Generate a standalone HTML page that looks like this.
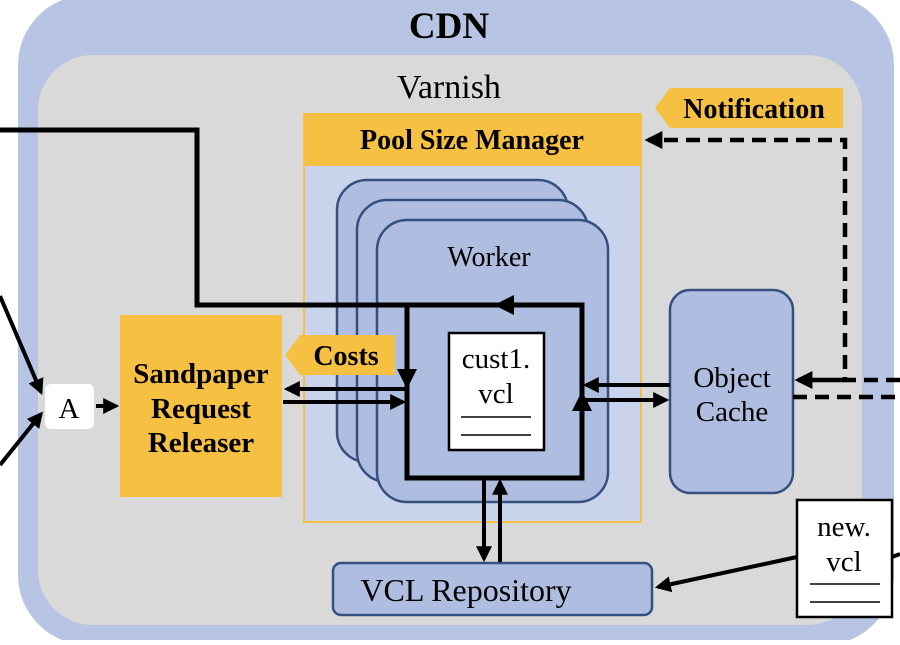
<!DOCTYPE html>
<html><head><meta charset="utf-8"><style>
body{margin:0;background:#fff;width:900px;height:640px;overflow:hidden}
text{font-family:"Liberation Serif",serif}
</style></head><body>
<svg width="900" height="640" viewBox="0 0 900 640" xmlns="http://www.w3.org/2000/svg">
<defs>
<marker id="ah" markerWidth="4" markerHeight="4" refX="3.2" refY="2" orient="auto" markerUnits="strokeWidth"><path d="M0,0 L4,2 L0,4 z" fill="#000"/></marker>
</defs>
<rect x="18" y="-5" width="876" height="650" rx="70" fill="#b8c4e4"/>
<rect x="38" y="55" width="824" height="570" rx="55" fill="#d9d9d9"/>
<text x="449" y="38" font-size="37" font-weight="bold" text-anchor="middle">CDN</text>
<text x="449" y="98" font-size="34" text-anchor="middle">Varnish</text>
<rect x="304" y="165" width="337" height="357" fill="#c9d3ec" stroke="#f6c142" stroke-width="2"/>
<rect x="303" y="113" width="339" height="53" fill="#f6c142"/>
<text x="472" y="149" font-size="28" font-weight="bold" text-anchor="middle">Pool Size Manager</text>
<rect x="337" y="180" width="231" height="282" rx="30" fill="#aebde0" stroke="#34507f" stroke-width="2.5"/>
<rect x="357" y="200" width="231" height="282" rx="30" fill="#aebde0" stroke="#34507f" stroke-width="2.5"/>
<rect x="377" y="220" width="231" height="282" rx="30" fill="#aebde0" stroke="#34507f" stroke-width="2.5"/>
<text x="489" y="266" font-size="28" text-anchor="middle">Worker</text>
<rect x="407" y="305" width="175" height="173" fill="none" stroke="#000" stroke-width="5"/>
<path d="M540,305 L498,305" stroke="#000" stroke-width="5" marker-end="url(#ah)"/>
<path d="M407,330 L407,385" stroke="#000" stroke-width="5" marker-end="url(#ah)"/>
<path d="M582,430 L582,395" stroke="#000" stroke-width="5" marker-end="url(#ah)"/>
<rect x="449" y="333" width="95" height="117" fill="#fff" stroke="#000" stroke-width="2.5"/>
<text x="496" y="368" font-size="29" text-anchor="middle">cust1.</text>
<text x="496" y="403" font-size="29" text-anchor="middle">vcl</text>
<line x1="461" y1="417" x2="531" y2="417" stroke="#000" stroke-width="1.5"/>
<line x1="461" y1="435" x2="531" y2="435" stroke="#000" stroke-width="1.5"/>
<path d="M0,130 L197,130 L197,305 L410,305" fill="none" stroke="#000" stroke-width="5"/>
<rect x="120" y="315" width="162" height="182" fill="#f6c142"/>
<text x="201" y="383" font-size="29" font-weight="bold" text-anchor="middle">Sandpaper</text>
<text x="201" y="418" font-size="29" font-weight="bold" text-anchor="middle">Request</text>
<text x="201" y="452" font-size="29" font-weight="bold" text-anchor="middle">Releaser</text>
<path d="M300,335 L395,335 L395,375 L300,375 L285,355 z" fill="#f6c142"/>
<text x="346" y="365" font-size="28" font-weight="bold" text-anchor="middle">Costs</text>
<path d="M405,389 L287,389" stroke="#000" stroke-width="4" marker-end="url(#ah)"/>
<path d="M283,402 L403,402" stroke="#000" stroke-width="4" marker-end="url(#ah)"/>
<rect x="45" y="384" width="49" height="45" rx="6" fill="#fff"/>
<text x="69" y="418" font-size="29" text-anchor="middle">A</text>
<path d="M0,296 L41,392" stroke="#000" stroke-width="4" marker-end="url(#ah)"/>
<path d="M0,465 L41,414" stroke="#000" stroke-width="4" marker-end="url(#ah)"/>
<path d="M96,406 L116,406" stroke="#000" stroke-width="4" marker-end="url(#ah)"/>
<rect x="670" y="290" width="123" height="203" rx="20" fill="#aebde0" stroke="#34507f" stroke-width="2.5"/>
<text x="732" y="387" font-size="29" text-anchor="middle">Object</text>
<text x="732" y="421" font-size="29" text-anchor="middle">Cache</text>
<path d="M670,385 L586,385" stroke="#000" stroke-width="4" marker-end="url(#ah)"/>
<path d="M584,400 L666,400" stroke="#000" stroke-width="4" marker-end="url(#ah)"/>
<path d="M484,478 L484,559" stroke="#000" stroke-width="4" marker-end="url(#ah)"/>
<path d="M500,563 L500,482" stroke="#000" stroke-width="4" marker-end="url(#ah)"/>
<rect x="333" y="563" width="319" height="52" rx="8" fill="#aebde0" stroke="#34507f" stroke-width="2.5"/>
<text x="466" y="601" font-size="32" text-anchor="middle">VCL Repository</text>
<rect x="797" y="500" width="95" height="117" fill="#fff" stroke="#000" stroke-width="2.5"/>
<text x="844" y="536" font-size="29" text-anchor="middle">new.</text>
<text x="844" y="571" font-size="29" text-anchor="middle">vcl</text>
<line x1="810" y1="584" x2="880" y2="584" stroke="#000" stroke-width="1.5"/>
<line x1="810" y1="602" x2="880" y2="602" stroke="#000" stroke-width="1.5"/>
<path d="M797,557 L658,587" stroke="#000" stroke-width="4" marker-end="url(#ah)"/>
<line x1="892" y1="557" x2="900" y2="554" stroke="#000" stroke-width="4"/>
<path d="M670,88 L843,88 L843,128 L670,128 L655,108 z" fill="#f6c142"/>
<text x="754" y="118" font-size="28" font-weight="bold" text-anchor="middle">Notification</text>
<path d="M900,380 L845,380 L845,140 L648,140" fill="none" stroke="#000" stroke-width="4.5" stroke-dasharray="14,8" marker-end="url(#ah)"/>
<path d="M845,380 L798,380" stroke="#000" stroke-width="4.5" marker-end="url(#ah)"/>
<path d="M793,397 L900,397" stroke="#000" stroke-width="4.5" stroke-dasharray="14,8"/>
</svg>
</body></html>
